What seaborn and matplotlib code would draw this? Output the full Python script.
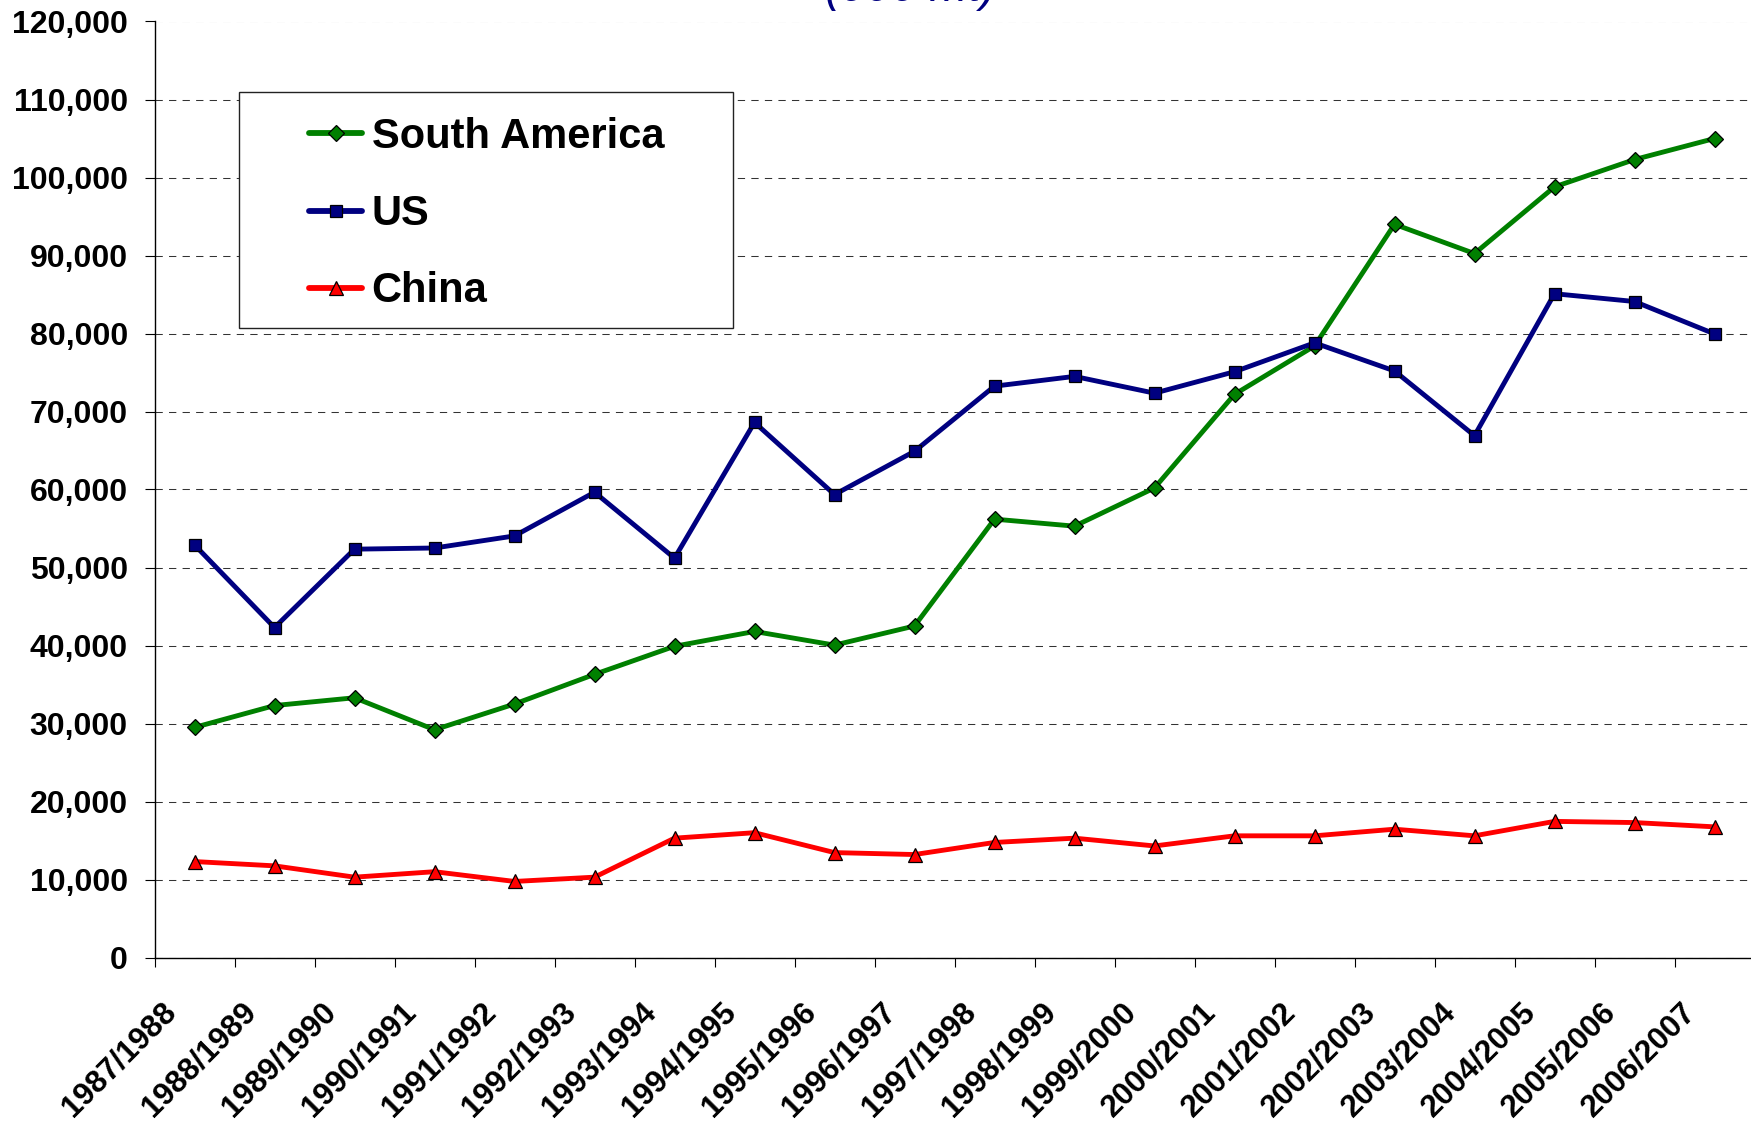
import matplotlib
matplotlib.use("Agg")
import matplotlib.pyplot as plt
import matplotlib.transforms as mtransforms
from matplotlib.patches import Rectangle
from matplotlib.ticker import FixedLocator, FuncFormatter, NullFormatter
import seaborn as sns
import pandas as pd

seasons = ["1987/1988", "1988/1989", "1989/1990", "1990/1991", "1991/1992",
           "1992/1993", "1993/1994", "1994/1995", "1995/1996", "1996/1997",
           "1997/1998", "1998/1999", "1999/2000", "2000/2001", "2001/2002",
           "2002/2003", "2003/2004", "2004/2005", "2005/2006", "2006/2007"]
south_america = [29500, 32300, 33300, 29200, 32500, 36300, 39900, 41800, 40050, 42500,
                 56200, 55300, 60200, 72200, 78400, 94000, 90250, 98800, 102300, 105000]
us = [52900, 42300, 52350, 52500, 54050, 59650, 51200, 68600, 59350, 64900,
      73250, 74500, 72350, 75100, 78800, 75200, 66900, 85100, 84100, 79950]
china = [12300, 11750, 10300, 11000, 9750, 10300, 15300, 16000, 13450, 13200,
         14750, 15300, 14300, 15600, 15600, 16450, 15600, 17450, 17300, 16750]
regions = ["South America", "US", "China"]
colors = {"South America": "#008000", "US": "#000080", "China": "#FF0000"}
markers = {"South America": "D", "US": "s", "China": "^"}
y_ticks = list(range(0, 120001, 10000))
title = "(000 mt)"

rows = []
for name, vals in zip(regions, [south_america, us, china]):
    for i, v in enumerate(vals):
        rows.append({"pos": i, "Season": seasons[i], "Region": name, "Value": v})
df = pd.DataFrame(rows)

sns.set_theme(style="white")
plt.rcParams["font.family"] = ["Liberation Sans", "DejaVu Sans"]
for k in ["text.color", "axes.labelcolor", "xtick.color", "ytick.color"]:
    plt.rcParams[k] = "black"

W, H = 1751, 1122
fig = plt.figure(figsize=(W / 100, H / 100), dpi=100)
ax = fig.add_axes([154.5 / W, (H - 957.5) / H, 1600 / W, 936 / H])

sns.lineplot(data=df, x="pos", y="Value", hue="Region", style="Region",
             hue_order=regions, style_order=regions, palette=colors,
             markers=markers, dashes=False, linewidth=3.5, markersize=8,
             markeredgecolor="black", markeredgewidth=0.9, ax=ax, legend=True)
for ln in ax.lines:
    if ln.get_marker() == "^":
        ln.set_markersize(9.5)

ax.set_xlim(-0.5, 19.5)
ax.set_ylim(0, 120000)
ax.set_xlabel("")
ax.set_ylabel("")

for s in ["top", "right"]:
    ax.spines[s].set_visible(False)
for s in ["left", "bottom"]:
    ax.spines[s].set_color("black")
    ax.spines[s].set_linewidth(1.0)

ax.yaxis.set_major_locator(FixedLocator(y_ticks))
ax.yaxis.set_major_formatter(FuncFormatter(lambda v, p: f"{int(v):,}"))
ax.tick_params(axis="y", which="major", direction="out", length=7.2, width=0.8,
               color="black", pad=12, labelsize=23, labelcolor="black", left=True)
for lab in ax.get_yticklabels():
    lab.set_fontweight("bold")

ax.xaxis.set_major_locator(FixedLocator([i - 0.5 for i in range(len(seasons) + 1)]))
ax.xaxis.set_major_formatter(NullFormatter())
ax.xaxis.set_minor_locator(FixedLocator(list(range(len(seasons)))))
ax.set_xticks(list(range(len(seasons))), labels=seasons, minor=True)
ax.tick_params(axis="x", which="major", direction="out", length=6.5, width=0.8,
               color="black", bottom=True)
ax.tick_params(axis="x", which="minor", length=0, pad=36, labelsize=22.5,
               labelcolor="black", bottom=True)
offset = mtransforms.ScaledTranslation(-23 / 100, 0, fig.dpi_scale_trans)
for lab in ax.get_xticklabels(minor=True):
    lab.set_rotation(45)
    lab.set_rotation_mode("anchor")
    lab.set_ha("right")
    lab.set_va("center")
    lab.set_fontweight("bold")
    lab.set_transform(lab.get_transform() + offset)

ax.yaxis.grid(True, linestyle=(0, (7, 6)), linewidth=0.75, color="#333333")
ax.xaxis.grid(False)
ax.set_axisbelow(True)

handles, labels = ax.get_legend_handles_labels()
ax.get_legend().remove()
for h in handles:
    h.set_linewidth(4.2)
    h.set_markeredgecolor("black")
    h.set_markeredgewidth(0.9)
    h.set_markersize(10 if h.get_marker() == "^" else 8.5)
leg = fig.legend(handles, labels, loc="upper left",
                 bbox_to_anchor=(309 / W, 1 - 117 / H),
                 frameon=False, borderpad=0, borderaxespad=0,
                 handlelength=1.28, handletextpad=0.22, labelspacing=0.89,
                 prop={"family": "Liberation Sans", "weight": "bold", "size": 30},
                 labelcolor="black")
fig.patches.append(Rectangle((239 / W, 1 - 328 / H), (733 - 239) / W, (328 - 92) / H,
                             transform=fig.transFigure, fill=True, facecolor="white",
                             edgecolor="#222222", linewidth=1.0, zorder=2.5))
leg.set_zorder(3)

fig.text(910 / W, 1 - 1 / H, title, ha="center", va="baseline", fontsize=33,
         style="italic", color="#000080", family="Liberation Sans")

fig.savefig("out.png", dpi=100)
